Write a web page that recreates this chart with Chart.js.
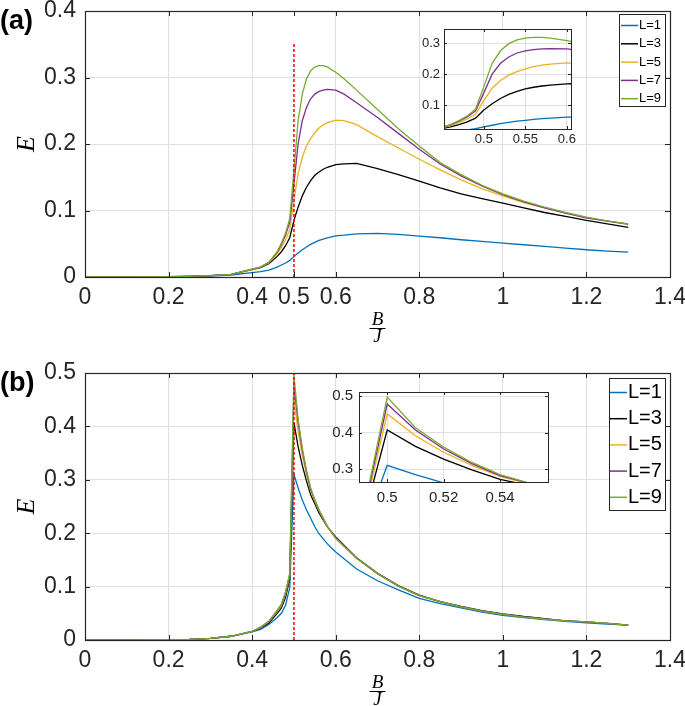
<!DOCTYPE html>
<html><head><meta charset="utf-8">
<script src="https://cdn.jsdelivr.net/npm/chart.js@4/dist/chart.umd.min.js"></script>
<style>
html,body{margin:0;padding:0;overflow:hidden;background:#fff;width:685px;height:706px;}
canvas{position:absolute;}
</style>
</head><body>
<canvas id="mainA" width="685" height="350" style="left:0;top:0"></canvas>
<canvas id="insetA" width="180" height="135" style="left:400px;top:20px"></canvas>
<canvas id="mainB" width="685" height="370" style="left:0;top:350px"></canvas>
<canvas id="insetB" width="250" height="130" style="left:310px;top:380px"></canvas>
<script>
// ---------- DATA ----------
const seriesNames = ['L=1','L=3','L=5','L=7','L=9'];
const seriesColors = ['#0072BD','#000000','#EDB120','#7E2F8E','#77AC30'];

// panel (a)
const xA = [0,0.1,0.2,0.25,0.3,0.35,0.4,0.42,0.44,0.46,0.47,0.48,0.49,0.5,0.51,0.52,0.53,0.54,0.55,0.56,0.57,0.58,0.6,0.62,0.65,0.7,0.75,0.8,0.85,0.9,0.95,1.0,1.05,1.1,1.15,1.2,1.25,1.3];
const aL1 = [0,0,0.0003,0.0008,0.0015,0.003,0.0065,0.008,0.0105,0.015,0.018,0.021,0.025,0.031,0.036,0.041,0.045,0.049,0.052,0.055,0.057,0.059,0.062,0.063,0.065,0.0655,0.064,0.0615,0.059,0.056,0.0535,0.051,0.0485,0.046,0.0435,0.041,0.039,0.0375];
const aL3 = [0,0,0.0005,0.001,0.002,0.004,0.011,0.014,0.02,0.031,0.038,0.047,0.059,0.085,0.105,0.122,0.135,0.145,0.153,0.158,0.162,0.165,0.169,0.170,0.171,0.163,0.154,0.144,0.134,0.125,0.118,0.111,0.104,0.097,0.091,0.085,0.080,0.0745];
const aL5 = [0,0,0.0005,0.001,0.002,0.004,0.011,0.015,0.021,0.035,0.045,0.056,0.071,0.115,0.155,0.18,0.197,0.208,0.217,0.224,0.229,0.232,0.236,0.235,0.229,0.211,0.194,0.177,0.161,0.146,0.133,0.122,0.112,0.104,0.096,0.089,0.084,0.079];
const aL7 = [0,0,0.0005,0.001,0.002,0.004,0.012,0.015,0.022,0.037,0.049,0.063,0.082,0.14,0.2,0.235,0.255,0.268,0.275,0.279,0.281,0.282,0.281,0.275,0.262,0.24,0.216,0.192,0.17,0.152,0.137,0.124,0.113,0.104,0.096,0.089,0.084,0.0795];
const aL9 = [0,0,0.0005,0.001,0.002,0.004,0.012,0.015,0.022,0.038,0.051,0.066,0.088,0.16,0.235,0.275,0.298,0.31,0.316,0.318,0.318,0.316,0.308,0.298,0.281,0.252,0.223,0.197,0.172,0.154,0.138,0.125,0.114,0.105,0.097,0.090,0.0845,0.0798];

// panel (b)
const xB = [0,0.1,0.2,0.25,0.3,0.35,0.4,0.42,0.44,0.46,0.47,0.48,0.49,0.5,0.51,0.52,0.53,0.54,0.55,0.56,0.58,0.6,0.65,0.7,0.75,0.8,0.85,0.9,0.95,1.0,1.05,1.1,1.15,1.2,1.25,1.3];
const bL1 = [0,0,0.0005,0.001,0.003,0.007,0.015,0.02,0.029,0.042,0.05,0.065,0.098,0.31,0.285,0.262,0.244,0.228,0.212,0.199,0.18,0.165,0.133,0.111,0.094,0.078,0.068,0.06,0.052,0.046,0.042,0.038,0.035,0.032,0.030,0.028];
const bL3 = [0,0,0.0005,0.001,0.003,0.007,0.016,0.022,0.032,0.05,0.06,0.08,0.115,0.407,0.362,0.327,0.298,0.272,0.255,0.238,0.212,0.193,0.154,0.125,0.102,0.084,0.072,0.063,0.055,0.049,0.044,0.040,0.036,0.034,0.031,0.028];
const bL5 = [0,0,0.0005,0.001,0.003,0.007,0.016,0.023,0.034,0.053,0.064,0.086,0.12,0.451,0.391,0.346,0.31,0.28,0.26,0.242,0.212,0.191,0.153,0.124,0.101,0.083,0.072,0.062,0.054,0.048,0.043,0.039,0.036,0.034,0.031,0.028];
const bL7 = [0,0,0.0005,0.001,0.003,0.007,0.016,0.024,0.035,0.055,0.066,0.089,0.123,0.478,0.407,0.355,0.315,0.282,0.262,0.243,0.213,0.191,0.153,0.124,0.101,0.083,0.072,0.062,0.054,0.048,0.043,0.039,0.036,0.034,0.031,0.028];
const bL9 = [0,0,0.0005,0.001,0.003,0.007,0.016,0.024,0.035,0.056,0.067,0.09,0.125,0.497,0.413,0.36,0.318,0.285,0.262,0.244,0.213,0.19,0.153,0.124,0.101,0.083,0.072,0.062,0.054,0.048,0.043,0.039,0.036,0.034,0.031,0.028];

// critical line B/J = 0.5
const critX = [0.5, 0.5];
const critYA = [0, 0.352];
const critYB = [0, 0.5];

// tick labels
const xTicksA = [0,0.2,0.4,0.5,0.6,0.8,1,1.2,1.4];
const yTicksA = [0,0.1,0.2,0.3,0.4];
const xTicksB = [0,0.2,0.4,0.6,0.8,1,1.2,1.4];
const yTicksB = [0,0.1,0.2,0.3,0.4,0.5];
const xTicksInsetA = [0.5,0.55,0.6];
const yTicksInsetA = [0.1,0.2,0.3];
const xTicksInsetB = [0.5,0.52,0.54];
const yTicksInsetB = [0.3,0.4,0.5];

// ---------- HELPERS ----------
const SANS = "'Liberation Sans', Arial, Helvetica, sans-serif";
const SERIF = "'Liberation Serif', 'Times New Roman', serif";
const AXIS = '#262626';
const GRID = '#dfdfdf';
const fmt = v => String(+(+v).toFixed(3));

function mkSeries(xs, ys, i, w) {
  return { label: seriesNames[i], data: xs.map((x, k) => ({x: x, y: ys[k]})),
    borderColor: seriesColors[i], backgroundColor: seriesColors[i], borderWidth: w,
    order: 5 - i, pointRadius: 0, fill: false, tension: 0 };
}
function mkCrit(ys) {
  return { label: 'crit', data: critX.map((x, k) => ({x: x, y: ys[k]})), borderColor: '#ff0000',
    borderDash: [3, 2], borderWidth: 1.5, order: 0, pointRadius: 0, fill: false, tension: 0 };
}
function zeroPad(s) { s.paddingTop = 0; s.paddingBottom = 0; s.paddingLeft = 0; s.paddingRight = 0; }

const frame = {
  id: 'frame',
  beforeDraw(chart, args, o) {
    if (o.fill) {
      const a = chart.chartArea, ctx = chart.ctx;
      ctx.save(); ctx.fillStyle = '#ffffff';
      ctx.fillRect(a.left, a.top, a.right - a.left, a.bottom - a.top);
      ctx.restore();
    }
  },
  afterDraw(chart, args, o) {
    const ctx = chart.ctx, a = chart.chartArea, xs = chart.scales.x, ys = chart.scales.y;
    ctx.save();
    ctx.strokeStyle = AXIS; ctx.lineWidth = 1;
    ctx.beginPath();
    const L = o.tick;
    xs.ticks.forEach(t => {
      const p = Math.round(xs.getPixelForValue(t.value)) + 0.5;
      ctx.moveTo(p, a.bottom); ctx.lineTo(p, a.bottom - L);
      ctx.moveTo(p, a.top); ctx.lineTo(p, a.top + L);
    });
    ys.ticks.forEach(t => {
      const p = Math.round(ys.getPixelForValue(t.value)) + 0.5;
      ctx.moveTo(a.left, p); ctx.lineTo(a.left + L, p);
      ctx.moveTo(a.right, p); ctx.lineTo(a.right - L, p);
    });
    ctx.stroke();
    ctx.lineWidth = o.frameW || 1;
    ctx.strokeRect(Math.round(a.left) + 0.5, Math.round(a.top) + 0.5, Math.round(a.right - a.left), Math.round(a.bottom - a.top));
    // fraction bar of B/J
    if (o.fracY) {
      const cx = (a.left + a.right) / 2;
      ctx.strokeStyle = '#000'; ctx.lineWidth = 1;
      ctx.beginPath(); ctx.moveTo(cx - 8, o.fracY); ctx.lineTo(cx + 8, o.fracY); ctx.stroke();
    }
    // legend
    if (o.legend) {
      const g = o.legend;
      ctx.fillStyle = '#fff';
      ctx.fillRect(g.x, g.y, g.w, g.h);
      ctx.strokeStyle = AXIS; ctx.lineWidth = 1;
      ctx.strokeRect(g.x + 0.5, g.y + 0.5, g.w, g.h);
      ctx.font = g.font + 'px ' + SANS;
      ctx.textBaseline = 'middle'; ctx.textAlign = 'left';
      seriesNames.forEach((n, i) => {
        const yy = g.row0 + i * g.step;
        ctx.strokeStyle = seriesColors[i]; ctx.lineWidth = 1.5;
        ctx.beginPath(); ctx.moveTo(g.l0, yy); ctx.lineTo(g.l1, yy); ctx.stroke();
        ctx.fillStyle = '#000';
        ctx.fillText(n, g.tx, yy);
      });
    }
    if (o.panel) {
      ctx.font = 'bold 27px ' + SANS;
      ctx.fillStyle = '#000'; ctx.textAlign = 'left'; ctx.textBaseline = 'middle';
      ctx.fillText(o.panel.text, o.panel.x, o.panel.y);
    }
    ctx.restore();
  }
};

function makeChart(id, cfg) {
  const xScale = {
    type: 'linear', min: cfg.xmin, max: cfg.xmax,
    afterBuildTicks: s => { s.ticks = cfg.xticks.map(v => ({value: v})); },
    afterFit: s => { s.height = cfg.xh; zeroPad(s); },
    border: {display: false},
    grid: { drawTicks: false, lineWidth: 1,
      color: c => (cfg.hideGridX !== undefined && c.tick && c.tick.value === cfg.hideGridX) ? 'rgba(0,0,0,0)' : GRID },
    ticks: { autoSkip: false, maxRotation: 0, minRotation: 0, padding: cfg.xpad, color: AXIS,
      font: {family: SANS, size: cfg.fs}, callback: v => fmt(v) },
    title: cfg.xtitle ? { display: true, text: ['B', 'J'], color: '#000',
      font: {family: SERIF, size: 19, style: 'italic', lineHeight: '17px'}, padding: {top: 0, bottom: cfg.xtitlePad} } : {display: false}
  };
  const yScale = {
    type: 'linear', min: cfg.ymin, max: cfg.ymax,
    afterBuildTicks: s => { s.ticks = cfg.yticks.map(v => ({value: v})); },
    afterFit: s => { s.width = cfg.yw; zeroPad(s); },
    border: {display: false},
    grid: { drawTicks: false, lineWidth: 1, color: GRID },
    ticks: { autoSkip: false, padding: cfg.ypad, color: AXIS,
      font: {family: SANS, size: cfg.fs}, callback: v => fmt(v) },
    title: cfg.ytitle ? { display: true, text: 'E', color: '#000',
      font: {family: SERIF, size: 26, style: 'italic'}, padding: {top: 12, bottom: 0} } : {display: false}
  };
  return new Chart(document.getElementById(id), {
    type: 'line',
    data: { datasets: cfg.datasets },
    options: {
      responsive: false, animation: false, devicePixelRatio: 1,
      layout: { padding: cfg.pad },
      events: [],
      plugins: { legend: {display: false}, tooltip: {enabled: false}, frame: cfg.frame },
      scales: { x: xScale, y: yScale }
    },
    plugins: [frame]
  });
}

const ysA = [aL1, aL3, aL5, aL7, aL9];
const ysB = [bL1, bL3, bL5, bL7, bL9];

// main (a)
makeChart('mainA', {
  xmin: 0, xmax: 1.4, ymin: 0, ymax: 0.4, xticks: xTicksA, yticks: yTicksA,
  xh: 73, yw: 85, xpad: 7, ypad: 9, fs: 23, hideGridX: 0.5,
  xtitle: true, xtitlePad: 4.5, ytitle: true,
  pad: {top: 11, right: 15, left: 0, bottom: 0},
  datasets: ysA.map((y, i) => mkSeries(xA, y, i, 1.3)).concat([mkCrit(critYA)]),
  frame: { tick: 5, frameW: 1.2, fracY: 328.5,
    legend: {x: 619, y: 14, w: 46, h: 92, row0: 25.5, step: 18.3, font: 13, l0: 621, l1: 638, tx: 639},
    panel: {text: '(a)', x: 0, y: 22} }
});
// inset (a)
makeChart('insetA', {
  xmin: 0.452, xmax: 0.605, ymin: 0.024, ymax: 0.345, xticks: xTicksInsetA, yticks: yTicksInsetA,
  xh: 26, yw: 44, xpad: 3, ypad: 4, fs: 13,
  pad: {top: 9, right: 9, left: 0, bottom: 0},
  datasets: ysA.map((y, i) => mkSeries(xA, y, i, 1.3)),
  frame: { tick: 3, frameW: 1, fill: true }
});
// main (b)
makeChart('mainB', {
  xmin: 0, xmax: 1.4, ymin: 0, ymax: 0.5, xticks: xTicksB, yticks: yTicksB,
  xh: 80, yw: 85, xpad: 7, ypad: 9, fs: 23,
  xtitle: true, xtitlePad: 11.5, ytitle: true,
  pad: {top: 23, right: 15, left: 0, bottom: 0},
  datasets: ysB.map((y, i) => mkSeries(xB, y, i, 1.3)).concat([mkCrit(critYB)]),
  frame: { tick: 5, frameW: 1.2, fracY: 341.5,
    legend: {x: 609, y: 28, w: 56, h: 132, row0: 42.5, step: 26.2, font: 20, l0: 610, l1: 627, tx: 628},
    panel: {text: '(b)', x: 0, y: 34} }
});
// inset (b)
makeChart('insetB', {
  xmin: 0.49, xmax: 0.557, ymin: 0.2645, ymax: 0.511, xticks: xTicksInsetB, yticks: yTicksInsetB,
  xh: 28, yw: 49, xpad: 7, ypad: 6, fs: 15,
  pad: {top: 12, right: 12, left: 0, bottom: 0},
  datasets: ysB.map((y, i) => mkSeries(xB, y, i, 1.3)),
  frame: { tick: 3, frameW: 1, fill: true }
});
</script>
</body></html>
